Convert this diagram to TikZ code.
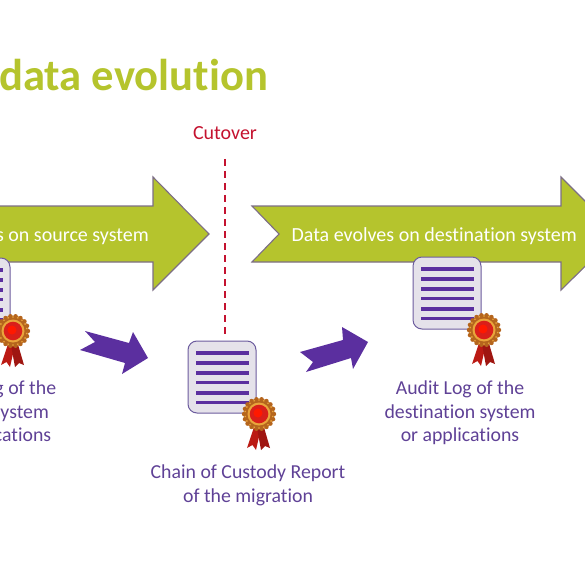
\documentclass[tikz,border=0pt]{standalone}
\usepackage{fontspec}
\setmainfont{Carlito}[Ligatures=NoCommon]
\definecolor{lime}{HTML}{B5C42D}
\definecolor{limeedge}{HTML}{7D6E85}
\definecolor{violet}{HTML}{5B2F9F}
\definecolor{violettext}{HTML}{5F4196}
\definecolor{paper}{HTML}{E5E2EA}
\definecolor{paperedge}{HTML}{6C5C9E}
\definecolor{cut}{HTML}{C4122F}
\definecolor{rosetteout}{HTML}{B5651D}
\definecolor{rosettegold}{HTML}{E9A53B}
\definecolor{rosettered}{HTML}{D91F1A}
\definecolor{ribbon}{HTML}{BB1A14}
\tikzset{
  x=1pt,y=-1pt,
  bigarrow/.style={fill=lime,draw=limeedge,line width=1.1pt,line join=miter},
  bigtext/.style={text=white,font=\fontsize{20}{22}\selectfont,inner sep=0pt},
  movearrow/.style={fill=violet,draw=none},
  caption/.style={text=violettext,font=\fontsize{19.8}{23.2}\selectfont,align=center,inner sep=0pt},
  docbox/.style={fill=paper,draw=paperedge,line width=1pt,rounded corners=9pt},
  docline/.style={draw=violet,line width=3.4pt},
  pics/certificate/.style={code={
    \path[docbox] (-34,-36) rectangle (34,36);
    \foreach \yy in {-24,-14,-4,5.5,16,25.5}{\draw[docline] (-26,\yy) -- (27,\yy);}
    \begin{scope}[shift={(37,37)}]
      \fill[ribbon] (-4,10) -- (-12,34) -- (-6.5,31) -- (-3,36) -- (2,14) -- cycle;
      \fill[ribbon!85!black] (4,10) -- (11,34) -- (6,32) -- (2,36) -- (-2,14) -- cycle;
      \foreach \aa in {0,20,...,340}{\fill[rosetteout] (\aa:15) circle (2.2);}
      \fill[rosetteout] (0,0) circle (15.5);
      \foreach \aa in {10,30,...,350}{\fill[rosettegold] (\aa:14) circle (0.9);}
      \fill[rosettegold] (0,0) circle (11.5);
      \fill[rosettered] (0,0) circle (9.3);
      \fill[red!80!orange] (-1,-1) circle (4.5);
    \end{scope}
  }}
}
\begin{document}
\begin{tikzpicture}
\useasboundingbox (0,0) rectangle (585,585);
\clip (0,0) rectangle (585,585);
\node[anchor=base west,inner sep=0pt,text=lime,font=\fontsize{44.6}{48}\selectfont\bfseries] (title) at (-1,91) {data evolution};
% source arrow
\path[bigarrow] (-40,206) -- (153,206) -- (153,177) -- (209,234) -- (153,290) -- (153,262) -- (-40,262) -- cycle;
\node[bigtext,anchor=base east] (src) at (149,241) {Data evolves on source system};
% destination arrow
\path[bigarrow] (252,206) -- (561,206) -- (561,177) -- (618,234) -- (561,290) -- (561,262) -- (252,262) -- (279,234) -- cycle;
\node[bigtext,anchor=base east] (dst) at (577,241) {Data evolves on destination system};
% cutover
\node[text=cut,font=\fontsize{20}{22}\selectfont,inner sep=0pt,anchor=base] (cutlabel) at (225,139.5) {Cutover};
\coordinate (cuttop) at (225,159);
\coordinate (cutbottom) at (225,336);
\draw[cut,line width=2.4pt,dash pattern=on 7pt off 5pt] (cuttop) -- (cutbottom);
% certificates
\pic at (-24,294) {certificate};
\pic at (222,377) {certificate};
\pic at (447,293) {certificate};
% movement arrows
\path[movearrow] (85,331) -- (129,343) -- (133,332) -- (148,358) -- (122,374) -- (125,363) -- (80,350) -- (95,342) -- cycle;
\path[movearrow] (300,352) -- (343,340) -- (342,327) -- (368,342) -- (353,369) -- (351,358) -- (306,372) -- (313,362) -- cycle;
% captions
\node[caption,anchor=north] (capa) at (-8,381) {Audit Log of the\\source system\\or applications};
\node[caption,anchor=north] (capb) at (248,465) {Chain of Custody Report\\of the migration};
\node[caption,anchor=north] (capc) at (460,381) {Audit Log of the\\destination system\\or applications};
\end{tikzpicture}
\end{document}
